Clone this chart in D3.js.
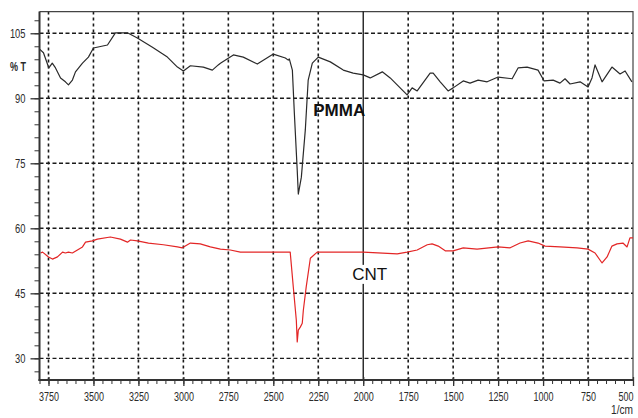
<!DOCTYPE html>
<html>
<head>
<meta charset="utf-8">
<script src="https://cdn.jsdelivr.net/npm/d3@7"></script>
<style>
  html, body { margin: 0; padding: 0; background: #fff; }
  svg { display: block; }
  .tick-label { font-family: "Liberation Sans", Arial, sans-serif; font-size: 12.5px; fill: #2a2a2a; }
</style>
</head>
<body>
<svg id="chart" width="638" height="418"></svg>
<script>
// FTIR transmittance spectra (% T vs wavenumber, 1/cm)
const pmmaWavenumber = [3798, 3778, 3748, 3729, 3711, 3683, 3656, 3639, 3617, 3600, 3561, 3528, 3500, 3422, 3378, 3311, 3256, 3172, 3089, 3033, 3000, 2961, 2889, 2839, 2806, 2794, 2722, 2667, 2589, 2500, 2433, 2417, 2411, 2394, 2383, 2367, 2361, 2344, 2322, 2306, 2283, 2250, 2183, 2111, 2056, 2000, 1961, 1894, 1850, 1756, 1728, 1700, 1628, 1611, 1572, 1528, 1500, 1444, 1406, 1361, 1311, 1250, 1172, 1139, 1089, 1028, 994, 944, 906, 878, 850, 794, 750, 728, 711, 672, 617, 572, 544, 506];
const pmmaT = [101.3, 100.5, 97.0, 98.1, 97.0, 94.7, 93.8, 93.1, 94.2, 96.1, 98.1, 99.5, 101.6, 102.3, 105.1, 105.1, 103.9, 101.8, 99.5, 97.2, 96.3, 97.5, 97.2, 96.5, 97.7, 98.1, 100.0, 99.5, 97.9, 100.2, 99.3, 98.8, 99.1, 96.5, 86.6, 73.4, 67.9, 71.8, 82.7, 94.2, 98.1, 99.5, 98.4, 96.5, 95.8, 95.4, 94.7, 96.1, 94.7, 90.8, 92.4, 91.7, 95.8, 95.8, 93.8, 91.7, 92.4, 94.0, 93.5, 94.2, 93.8, 94.9, 94.5, 97.0, 97.2, 96.5, 94.0, 94.2, 93.5, 94.5, 93.3, 93.8, 92.6, 94.7, 97.7, 93.8, 97.2, 95.6, 96.3, 93.8];

const cntWavenumber = [3794, 3783, 3750, 3728, 3700, 3672, 3656, 3639, 3617, 3589, 3561, 3544, 3506, 3478, 3406, 3350, 3311, 3294, 3256, 3194, 3111, 3033, 3006, 2961, 2906, 2850, 2794, 2739, 2683, 2556, 2406, 2389, 2372, 2367, 2361, 2350, 2339, 2333, 2317, 2294, 2256, 2183, 2000, 1811, 1756, 1700, 1644, 1617, 1583, 1544, 1500, 1444, 1367, 1250, 1183, 1128, 1083, 1028, 989, 906, 811, 750, 711, 672, 644, 617, 589, 556, 533, 517, 500];
const cntT = [54.3, 54.5, 53.4, 52.9, 53.4, 54.5, 54.3, 54.5, 54.3, 55.0, 55.7, 56.8, 57.1, 57.5, 58.0, 57.5, 56.8, 57.3, 57.1, 56.6, 56.2, 55.7, 55.5, 56.6, 56.4, 55.7, 55.2, 55.0, 54.5, 54.5, 54.5, 46.5, 38.8, 33.8, 36.5, 37.2, 38.1, 41.1, 46.5, 53.1, 54.5, 54.5, 54.5, 54.1, 54.5, 55.0, 56.2, 56.4, 55.9, 54.8, 54.8, 55.5, 55.2, 55.7, 55.5, 56.6, 57.1, 56.6, 55.9, 55.7, 55.5, 55.2, 54.3, 52.0, 53.4, 55.9, 56.4, 56.6, 55.7, 57.8, 57.8];

const xMajorTicks = [3750, 3500, 3250, 3000, 2750, 2500, 2250, 2000, 1750, 1500, 1250, 1000, 750, 500];
const yMajorTicks = [30, 45, 60, 75, 90, 105];
const markerWavenumber = 2000;

const seriesLabels = [
  { text: "PMMA", wn: 2278, t: 85.8, weight: "bold", box: false },
  { text: "CNT", wn: 2061, t: 48.1, weight: "normal", box: true }
];

const svg = d3.select("#chart");
const plot = { left: 39.5, right: 633, top: 11.6, bottom: 380 };

const x = d3.scaleLinear().domain([3800, 500]).range([plot.left, plot.right]);
const y = d3.scaleLinear().domain([25, 110]).range([plot.bottom, plot.top]);

// dashed grid
const grid = svg.append("g");
grid.selectAll("line.h").data(yMajorTicks).join("line")
  .attr("x1", plot.left).attr("x2", plot.right)
  .attr("y1", d => y(d)).attr("y2", d => y(d))
  .attr("stroke", "#1a1a1a").attr("stroke-width", 1.4)
  .attr("stroke-dasharray", "4,2.5");
grid.selectAll("line.v").data(xMajorTicks.filter(d => d !== markerWavenumber && d !== 500)).join("line")
  .attr("x1", d => x(d)).attr("x2", d => x(d))
  .attr("y1", plot.top).attr("y2", plot.bottom)
  .attr("stroke", "#1a1a1a").attr("stroke-width", 1.6)
  .attr("stroke-dasharray", "3,3");

// frame top/right
svg.append("path")
  .attr("d", `M${plot.left},${plot.top}H${plot.right}V${plot.bottom}`)
  .attr("fill", "none").attr("stroke", "#444").attr("stroke-width", 1.2);

// marker line at 2000 1/cm
svg.append("line")
  .attr("x1", x(markerWavenumber)).attr("x2", x(markerWavenumber))
  .attr("y1", plot.top).attr("y2", plot.bottom)
  .attr("stroke", "#111").attr("stroke-width", 1.3);

// spectra
const line = d3.line().x(d => x(d[0])).y(d => y(d[1]));
svg.append("path")
  .datum(pmmaWavenumber.map((w, i) => [w, pmmaT[i]]))
  .attr("d", line).attr("fill", "none")
  .attr("stroke", "#2a2a2a").attr("stroke-width", 1.2).attr("stroke-linejoin", "round");
svg.append("path")
  .datum(cntWavenumber.map((w, i) => [w, cntT[i]]))
  .attr("d", line).attr("fill", "none")
  .attr("stroke", "#e32626").attr("stroke-width", 1.2).attr("stroke-linejoin", "round");

// series labels
seriesLabels.forEach(l => {
  const g = svg.append("g");
  const t = g.append("text")
    .attr("x", x(l.wn)).attr("y", y(l.t))
    .attr("font-family", "Liberation Sans, Arial, sans-serif")
    .attr("font-size", 17).attr("font-weight", l.weight)
    .attr("fill", "#111").text(l.text);
  if (l.box) {
    const b = t.node().getBBox();
    g.insert("rect", "text")
      .attr("x", b.x).attr("y", b.y)
      .attr("width", b.width).attr("height", b.height)
      .attr("fill", "#fff");
  }
});

const fmt = d3.format("d");

// y axis
const yMinor = d3.range(27, 110, 3);
const yAxis = svg.append("g").attr("transform", `translate(${plot.left},0)`);
yAxis.append("g").call(d3.axisLeft(y).tickValues(yMinor).tickSize(5).tickFormat(""))
  .call(g => g.select(".domain").remove())
  .call(g => g.selectAll("line").attr("stroke", "#333").attr("stroke-width", 1));
yAxis.append("g").call(d3.axisLeft(y).tickValues(yMajorTicks).tickSize(9).tickPadding(5).tickFormat(fmt))
  .call(g => g.select(".domain").remove())
  .call(g => g.selectAll("line").attr("stroke", "#333").attr("stroke-width", 1.3))
  .call(g => g.selectAll("text").attr("class", "tick-label").attr("font-size", null).attr("font-family", null)
    .attr("textLength", d => fmt(d).length * 5.2).attr("lengthAdjust", "spacingAndGlyphs"));
yAxis.append("line").attr("y1", plot.top).attr("y2", plot.bottom + 1)
  .attr("stroke", "#333").attr("stroke-width", 2);

// x axis
const xMinor = d3.range(3800, 499, -50);
const xAxis = svg.append("g").attr("transform", `translate(0,${plot.bottom})`);
xAxis.append("g").call(d3.axisBottom(x).tickValues(xMinor).tickSize(4).tickFormat(""))
  .call(g => g.select(".domain").remove())
  .call(g => g.selectAll("line").attr("stroke", "#333").attr("stroke-width", 1));
xAxis.append("g").call(d3.axisBottom(x).tickValues(xMajorTicks).tickSize(6).tickPadding(6).tickFormat(fmt))
  .call(g => g.select(".domain").remove())
  .call(g => g.selectAll("line").attr("stroke", "#333").attr("stroke-width", 1.3).attr("y1", -3))
  .call(g => g.selectAll("text").attr("class", "tick-label").attr("font-size", null).attr("font-family", null)
    .attr("textLength", d => fmt(d).length * 5).attr("lengthAdjust", "spacingAndGlyphs")
    .filter(d => d === 500).attr("text-anchor", "end").attr("dx", 0));
xAxis.append("line").attr("x1", plot.left - 1).attr("x2", plot.right)
  .attr("stroke", "#333").attr("stroke-width", 2);

// axis titles
svg.append("text").attr("class", "tick-label").attr("x", 10).attr("y", 71).text("% T")
  .attr("font-weight", "bold")
  .attr("textLength", 16).attr("lengthAdjust", "spacingAndGlyphs");
svg.append("text").attr("class", "tick-label").attr("x", 633).attr("y", 414).attr("text-anchor", "end").text("1/cm")
  .attr("textLength", 22).attr("lengthAdjust", "spacingAndGlyphs");
</script>
</body>
</html>
